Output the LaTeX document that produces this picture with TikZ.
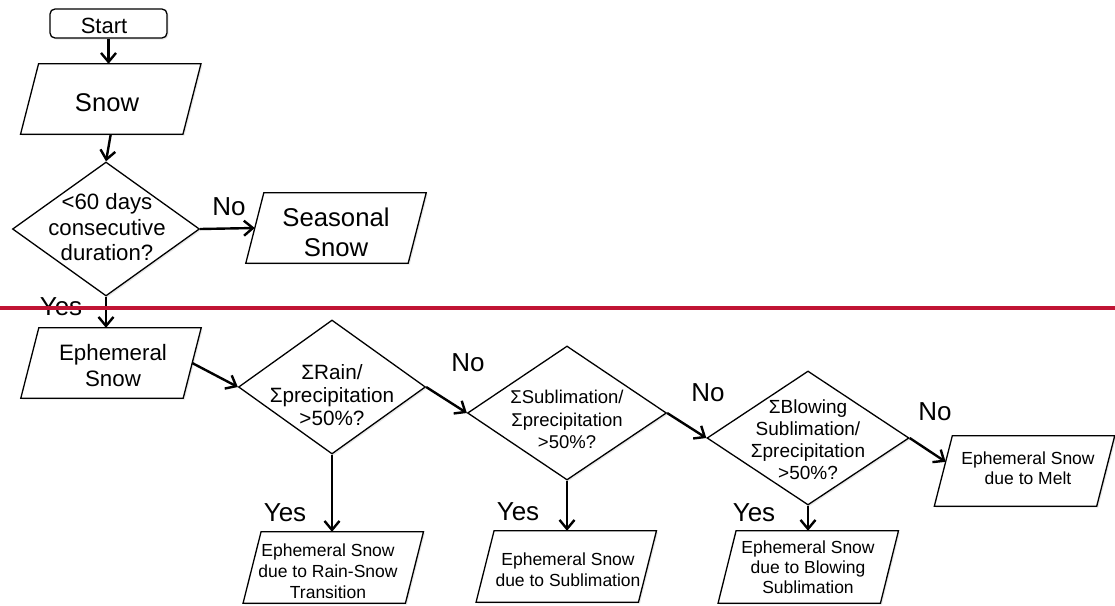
\documentclass[tikz,border=0pt]{standalone}
\usepackage{fontspec}
\setmainfont{Liberation Sans}
\usetikzlibrary{shapes.geometric,arrows.meta,calc,shadows}
\definecolor{redline}{RGB}{192,20,52}
\newcommand\parabox[1]{%
  \draw[shp] ($(#1.north west)+(9,0)$) -- ($(#1.north east)+(9,0)$) --
    ($(#1.south east)+(-9,0)$) -- ($(#1.south west)+(-9,0)$) -- cycle;}
\begin{document}
\begin{tikzpicture}[x=1pt,y=-1pt,
  shp/.style={draw=black, line width=1.3pt, fill=white, drop shadow={shadow xshift=1.5pt, shadow yshift=-1.5pt, opacity=0.18}},
  para/.style={rectangle, draw=none, minimum width=162pt, minimum height=70pt, inner sep=0pt},
  dia/.style={shp, diamond, inner sep=0pt},
  txt/.style={align=center, inner sep=0pt},
  lbl/.style={font=\fontsize{26}{30}\selectfont, inner sep=0pt},
  arr/.style={line width=2.4pt, -{Straight Barb[length=9pt,width=15pt]}},
]
\useasboundingbox (0,0) rectangle (1115,605);

% top part
\node[shp, rounded corners=5pt, minimum width=117pt, minimum height=29pt, inner sep=0pt] (start) at (108.5,23.5) {};
\node[txt, font=\fontsize{22}{26}\selectfont] (startt) at (104,26) {Start};

\node[para] (snow) at (110.75,99) {};
\parabox{snow}
\node[txt, font=\fontsize{25.6}{30}\selectfont] (snowt) at (107,102.5) {Snow};

\node[dia, minimum width=187pt, minimum height=134pt] (d1) at (106,229) {};
\node[txt, font=\fontsize{22.2}{25.5}\selectfont] (d1t) at (107,227.5) {<60 days\\consecutive\\duration?};

\node[para] (seas) at (336,228) {};
\parabox{seas}
\node[txt, font=\fontsize{25.7}{30}\selectfont] (seast) at (336,232) {Seasonal\\Snow};

% lower part
\node[para] (eph) at (111,363) {};
\parabox{eph}
\node[txt, font=\fontsize{22.3}{26}\selectfont] (epht) at (113,366) {Ephemeral\\Snow};

\node[dia, minimum width=187pt, minimum height=134pt] (d2) at (332,387) {};
\node[txt, font=\fontsize{20.7}{23}\selectfont] (d2t) at (332,395) {ΣRain/\\Σprecipitation\\>50\%?};

\node[dia, minimum width=199pt, minimum height=134pt] (d3) at (567,413) {};
\node[txt, font=\fontsize{18.5}{22.5}\selectfont] (d3t) at (567,419.5) {ΣSublimation/\\Σprecipitation\\>50\%?};

\node[dia, minimum width=202pt, minimum height=134pt] (d4) at (808,438) {};
\node[txt, font=\fontsize{19}{22}\selectfont] (d4t) at (808,440) {ΣBlowing\\Sublimation/\\Σprecipitation\\>50\%?};

\node[para] (melt) at (1024.5,471) {};
\parabox{melt}
\node[txt, font=\fontsize{17.5}{20}\selectfont] (meltt) at (1028,468) {Ephemeral Snow\\due to Melt};

\node[para, minimum height=71pt] (b1) at (333.25,567.5) {};
\parabox{b1}
\node[txt, font=\fontsize{17.5}{21}\selectfont] (b1t) at (328,571) {Ephemeral Snow\\due to Rain-Snow\\Transition};

\node[para, minimum height=71pt] (b2) at (566.25,566.5) {};
\parabox{b2}
\node[txt, font=\fontsize{17.5}{21}\selectfont] (b2t) at (568,569.5) {Ephemeral Snow\\due to Sublimation};

\node[para, minimum height=72pt] (b3) at (808.25,567) {};
\parabox{b3}
\node[txt, font=\fontsize{17.5}{20}\selectfont] (b3t) at (808,567) {Ephemeral Snow\\due to Blowing\\Sublimation};

% labels
\node[lbl] (no1) at (229,207) {No};
\node[lbl] (yes1) at (61,307) {Yes};
\node[lbl] (no2) at (468,363) {No};
\node[lbl] (yes2) at (285,513) {Yes};
\node[lbl] (no3) at (708,393) {No};
\node[lbl] (yes3) at (518,512) {Yes};
\node[lbl] (no4) at (935,412) {No};
\node[lbl] (yes4) at (754,513) {Yes};

% connectors
\coordinate (mtl) at ($(melt.north west)+(9,0)$);
\coordinate (mbl) at ($(melt.south west)+(-9,0)$);
\draw[arr] (start.south) -- (start.south |- snow.north);
\draw[arr] (snow.south) -- (d1.north);
\draw[arr] (d1.east) -- (seas.west);
\draw[arr] (d1.south) -- (d1.south |- eph.north);
\draw[arr] (eph.east) -- (d2.west);
\draw[arr] (d2.east) -- (d3.west);
\draw[arr] (d3.east) -- (d4.west);
\draw[arr] (d4.east) -- ($(mtl)!0.37!(mbl)$);
\draw[arr] (d2.south) -- (d2.south |- b1.north);
\draw[arr] (d3.south) -- (d3.south |- b2.north);
\draw[arr] (d4.south) -- (d4.south |- b3.north);

% red separator
\coordinate (rl) at (0,308);
\coordinate (rr) at (1115,308);
\draw[redline, line width=3.5pt] (rl) -- (rr);
\end{tikzpicture}
\end{document}
